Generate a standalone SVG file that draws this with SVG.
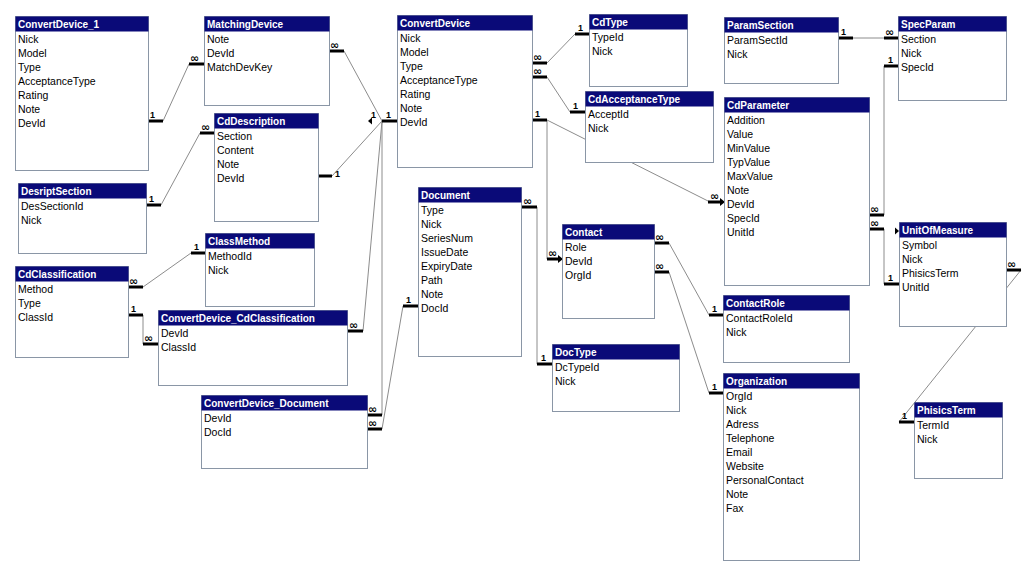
<svg xmlns="http://www.w3.org/2000/svg" width="1032" height="575" viewBox="0 0 1032 575">
<style>
.bg{fill:#ffffff}
.box{fill:#ffffff;stroke:#8a96a6;stroke-width:1}
.ttl{fill:#0a0a78}
.tt{font-family:"Liberation Sans",Arial,sans-serif;font-size:10px;font-weight:bold;fill:#ffffff}
.ft{font-family:"Liberation Sans",Arial,sans-serif;font-size:10.5px;fill:#000000}
.ln{stroke:#8c8c8c;stroke-width:1;fill:none}
.stub{stroke:#000000;stroke-width:3;fill:none}
.one{font-family:"Liberation Sans",Arial,sans-serif;font-size:9px;font-weight:bold;fill:#000000}
.inf{font-family:"DejaVu Sans","Liberation Sans",sans-serif;font-size:11px;font-weight:bold;fill:#000000}
.arr{fill:#000000}
</style>
<rect class="bg" x="0" y="0" width="1032" height="575"/>

<g id="connectors">
  <!-- lines -->
  <path class="ln" d="M163,121 L189,64"/>
  <path class="ln" d="M344,51 L382,121"/>
  <path class="ln" d="M161,205 L200,133"/>
  <path class="ln" d="M332,176 L382,121"/>
  <path class="ln" d="M363,331 L382,121"/>
  <path class="ln" d="M382,415 L382,121"/>
  <path class="ln" d="M382,429 L403,306"/>
  <path class="ln" d="M143,287 L191,253"/>
  <path class="ln" d="M143,315 L143,344"/>
  <path class="ln" d="M547,63 L575,34"/>
  <path class="ln" d="M547,77 L570,112"/>
  <path class="ln" d="M547,120 L710,202"/>
  <path class="ln" d="M547,120 L547,259"/>
  <path class="ln" d="M537,207 L537,364"/>
  <path class="ln" d="M669,243 L709,315"/>
  <path class="ln" d="M669,272 L709,393"/>
  <path class="ln" d="M853,38 L884,38"/>
  <path class="ln" d="M884,66 L884,215"/>
  <path class="ln" d="M884,229 L884,284"/>
  <path class="ln" d="M1021,270 L899,422"/>

  <!-- stubs -->
  <path class="stub" d="M148,121 H163"/><text class="one" x="150" y="118">1</text>
  <path class="stub" d="M189,64 H204"/><text class="inf" x="190" y="62">∞</text>
  <path class="stub" d="M329,51 H344"/><text class="inf" x="330" y="49">∞</text>
  <path class="stub" d="M146,205 H161"/><text class="one" x="149" y="202">1</text>
  <path class="stub" d="M200,133 H214"/><text class="inf" x="201" y="131">∞</text>
  <path class="stub" d="M318,176 H332"/><text class="one" x="335" y="177">1</text>
  <path class="stub" d="M348,331 H363"/><text class="inf" x="349" y="329">∞</text>
  <path class="stub" d="M367,415 H382"/><text class="inf" x="368" y="413">∞</text>
  <path class="stub" d="M367,429 H382"/><text class="inf" x="368" y="427">∞</text>
  <path class="stub" d="M403,306 H418"/><text class="one" x="406" y="303">1</text>
  <path class="stub" d="M382,121 H397"/><text class="one" x="386" y="118">1</text>
  <text class="one" x="371" y="118">1</text>
  <polygon class="arr" points="368,121 372,117.5 372,124.5"/>
  <path class="stub" d="M128,287 H143"/><text class="inf" x="129" y="285">∞</text>
  <path class="stub" d="M191,253 H205"/><text class="one" x="194" y="250">1</text>
  <path class="stub" d="M128,315 H143"/><text class="one" x="131" y="312">1</text>
  <path class="stub" d="M143,344 H158"/><text class="inf" x="144" y="342">∞</text>
  <path class="stub" d="M532,63 H547"/><text class="inf" x="533" y="61">∞</text>
  <path class="stub" d="M532,77 H547"/><text class="inf" x="533" y="75">∞</text>
  <path class="stub" d="M575,34 H589"/><text class="one" x="578" y="31">1</text>
  <path class="stub" d="M570,112 H585"/><text class="one" x="573" y="109">1</text>
  <path class="stub" d="M532,120 H547"/><text class="one" x="535" y="117">1</text>
  <path class="stub" d="M708,202 H721"/><text class="inf" x="710" y="200">∞</text>
  <polygon class="arr" points="725,202 720,198 720,206"/>
  <path class="stub" d="M547,259 H559"/><text class="inf" x="548" y="257">∞</text>
  <polygon class="arr" points="563,259 558,255 558,263"/>
  <path class="stub" d="M521,207 H537"/><text class="inf" x="523" y="205">∞</text>
  <path class="stub" d="M537,364 H552"/><text class="one" x="541" y="361">1</text>
  <path class="stub" d="M654,243 H669"/><text class="inf" x="655" y="241">∞</text>
  <path class="stub" d="M654,272 H669"/><text class="inf" x="655" y="270">∞</text>
  <path class="stub" d="M709,315 H723"/><text class="one" x="712" y="312">1</text>
  <path class="stub" d="M709,393 H723"/><text class="one" x="712" y="390">1</text>
  <path class="stub" d="M838,38 H853"/><text class="one" x="841" y="35">1</text>
  <path class="stub" d="M884,38 H898"/><text class="inf" x="885" y="36">∞</text>
  <path class="stub" d="M884,66 H898"/><text class="one" x="888" y="63">1</text>
  <path class="stub" d="M869,215 H884"/><text class="inf" x="870" y="213">∞</text>
  <path class="stub" d="M869,229 H884"/><text class="inf" x="870" y="227">∞</text>
  <polygon class="arr" points="899,231 895,227.5 895,234.5"/>
  <path class="stub" d="M884,284 H899"/><text class="one" x="888" y="281">1</text>
  <path class="stub" d="M1006,270 H1021"/><text class="inf" x="1007" y="268">∞</text>
  <path class="stub" d="M899,422 H914"/><text class="one" x="902" y="419">1</text>
</g>

<g id="ConvertDevice_1" transform="translate(15,16)">
  <rect class="box" x="0.5" y="0.5" width="133" height="154"/><rect class="ttl" x="0.5" y="0.5" width="133" height="15"/>
  <text class="tt" x="3" y="12">ConvertDevice_1</text>
  <text class="ft" x="3" y="27">Nick</text><text class="ft" x="3" y="41">Model</text><text class="ft" x="3" y="55">Type</text><text class="ft" x="3" y="69">AcceptanceType</text><text class="ft" x="3" y="83">Rating</text><text class="ft" x="3" y="97">Note</text><text class="ft" x="3" y="111">DevId</text>
</g>
<g id="MatchingDevice" transform="translate(204,16)">
  <rect class="box" x="0.5" y="0.5" width="125" height="89"/><rect class="ttl" x="0.5" y="0.5" width="125" height="15"/>
  <text class="tt" x="3" y="12">MatchingDevice</text>
  <text class="ft" x="3" y="27">Note</text><text class="ft" x="3" y="41">DevId</text><text class="ft" x="3" y="55">MatchDevKey</text>
</g>
<g id="CdDescription" transform="translate(214,113)">
  <rect class="box" x="0.5" y="0.5" width="104" height="108"/><rect class="ttl" x="0.5" y="0.5" width="104" height="15"/>
  <text class="tt" x="3" y="12">CdDescription</text>
  <text class="ft" x="3" y="27">Section</text><text class="ft" x="3" y="41">Content</text><text class="ft" x="3" y="55">Note</text><text class="ft" x="3" y="69">DevId</text>
</g>
<g id="DesriptSection" transform="translate(18,183)">
  <rect class="box" x="0.5" y="0.5" width="128" height="70"/><rect class="ttl" x="0.5" y="0.5" width="128" height="15"/>
  <text class="tt" x="3" y="12">DesriptSection</text>
  <text class="ft" x="3" y="27">DesSectionId</text><text class="ft" x="3" y="41">Nick</text>
</g>
<g id="ClassMethod" transform="translate(205,233)">
  <rect class="box" x="0.5" y="0.5" width="109" height="73"/><rect class="ttl" x="0.5" y="0.5" width="109" height="15"/>
  <text class="tt" x="3" y="12">ClassMethod</text>
  <text class="ft" x="3" y="27">MethodId</text><text class="ft" x="3" y="41">Nick</text>
</g>
<g id="CdClassification" transform="translate(15,266)">
  <rect class="box" x="0.5" y="0.5" width="113" height="91"/><rect class="ttl" x="0.5" y="0.5" width="113" height="15"/>
  <text class="tt" x="3" y="12">CdClassification</text>
  <text class="ft" x="3" y="27">Method</text><text class="ft" x="3" y="41">Type</text><text class="ft" x="3" y="55">ClassId</text>
</g>
<g id="ConvertDevice_CdClassification" transform="translate(158,310)">
  <rect class="box" x="0.5" y="0.5" width="189" height="75"/><rect class="ttl" x="0.5" y="0.5" width="189" height="15"/>
  <text class="tt" x="3" y="12">ConvertDevice_CdClassification</text>
  <text class="ft" x="3" y="27">DevId</text><text class="ft" x="3" y="41">ClassId</text>
</g>
<g id="ConvertDevice_Document" transform="translate(201,395)">
  <rect class="box" x="0.5" y="0.5" width="166" height="73"/><rect class="ttl" x="0.5" y="0.5" width="166" height="15"/>
  <text class="tt" x="3" y="12">ConvertDevice_Document</text>
  <text class="ft" x="3" y="27">DevId</text><text class="ft" x="3" y="41">DocId</text>
</g>
<g id="ConvertDevice" transform="translate(397,15)">
  <rect class="box" x="0.5" y="0.5" width="135" height="152"/><rect class="ttl" x="0.5" y="0.5" width="135" height="15"/>
  <text class="tt" x="3" y="12">ConvertDevice</text>
  <text class="ft" x="3" y="27">Nick</text><text class="ft" x="3" y="41">Model</text><text class="ft" x="3" y="55">Type</text><text class="ft" x="3" y="69">AcceptanceType</text><text class="ft" x="3" y="83">Rating</text><text class="ft" x="3" y="97">Note</text><text class="ft" x="3" y="111">DevId</text>
</g>
<g id="Document" transform="translate(418,187)">
  <rect class="box" x="0.5" y="0.5" width="103" height="169"/><rect class="ttl" x="0.5" y="0.5" width="103" height="15"/>
  <text class="tt" x="3" y="12">Document</text>
  <text class="ft" x="3" y="27">Type</text><text class="ft" x="3" y="41">Nick</text><text class="ft" x="3" y="55">SeriesNum</text><text class="ft" x="3" y="69">IssueDate</text><text class="ft" x="3" y="83">ExpiryDate</text><text class="ft" x="3" y="97">Path</text><text class="ft" x="3" y="111">Note</text><text class="ft" x="3" y="125">DocId</text>
</g>
<g id="CdType" transform="translate(589,14)">
  <rect class="box" x="0.5" y="0.5" width="98" height="72"/><rect class="ttl" x="0.5" y="0.5" width="98" height="15"/>
  <text class="tt" x="3" y="12">CdType</text>
  <text class="ft" x="3" y="27">TypeId</text><text class="ft" x="3" y="41">Nick</text>
</g>
<g id="CdAcceptanceType" transform="translate(585,91)">
  <rect class="box" x="0.5" y="0.5" width="128" height="71"/><rect class="ttl" x="0.5" y="0.5" width="128" height="15"/>
  <text class="tt" x="3" y="12">CdAcceptanceType</text>
  <text class="ft" x="3" y="27">AcceptId</text><text class="ft" x="3" y="41">Nick</text>
</g>
<g id="ParamSection" transform="translate(724,17)">
  <rect class="box" x="0.5" y="0.5" width="114" height="66"/><rect class="ttl" x="0.5" y="0.5" width="114" height="15"/>
  <text class="tt" x="3" y="12">ParamSection</text>
  <text class="ft" x="3" y="27">ParamSectId</text><text class="ft" x="3" y="41">Nick</text>
</g>
<g id="SpecParam" transform="translate(898,16)">
  <rect class="box" x="0.5" y="0.5" width="108" height="84"/><rect class="ttl" x="0.5" y="0.5" width="108" height="15"/>
  <text class="tt" x="3" y="12">SpecParam</text>
  <text class="ft" x="3" y="27">Section</text><text class="ft" x="3" y="41">Nick</text><text class="ft" x="3" y="55">SpecId</text>
</g>
<g id="CdParameter" transform="translate(724,97)">
  <rect class="box" x="0.5" y="0.5" width="145" height="188"/><rect class="ttl" x="0.5" y="0.5" width="145" height="15"/>
  <text class="tt" x="3" y="12">CdParameter</text>
  <text class="ft" x="3" y="27">Addition</text><text class="ft" x="3" y="41">Value</text><text class="ft" x="3" y="55">MinValue</text><text class="ft" x="3" y="69">TypValue</text><text class="ft" x="3" y="83">MaxValue</text><text class="ft" x="3" y="97">Note</text><text class="ft" x="3" y="111">DevId</text><text class="ft" x="3" y="125">SpecId</text><text class="ft" x="3" y="139">UnitId</text>
</g>
<g id="Contact" transform="translate(562,224)">
  <rect class="box" x="0.5" y="0.5" width="92" height="94"/><rect class="ttl" x="0.5" y="0.5" width="92" height="15"/>
  <text class="tt" x="3" y="12">Contact</text>
  <text class="ft" x="3" y="27">Role</text><text class="ft" x="3" y="41">DevId</text><text class="ft" x="3" y="55">OrgId</text>
</g>
<g id="DocType" transform="translate(552,344)">
  <rect class="box" x="0.5" y="0.5" width="127" height="67"/><rect class="ttl" x="0.5" y="0.5" width="127" height="15"/>
  <text class="tt" x="3" y="12">DocType</text>
  <text class="ft" x="3" y="27">DcTypeId</text><text class="ft" x="3" y="41">Nick</text>
</g>
<g id="ContactRole" transform="translate(723,295)">
  <rect class="box" x="0.5" y="0.5" width="126" height="67"/><rect class="ttl" x="0.5" y="0.5" width="126" height="15"/>
  <text class="tt" x="3" y="12">ContactRole</text>
  <text class="ft" x="3" y="27">ContactRoleId</text><text class="ft" x="3" y="41">Nick</text>
</g>
<g id="Organization" transform="translate(723,373)">
  <rect class="box" x="0.5" y="0.5" width="136" height="187"/><rect class="ttl" x="0.5" y="0.5" width="136" height="15"/>
  <text class="tt" x="3" y="12">Organization</text>
  <text class="ft" x="3" y="27">OrgId</text><text class="ft" x="3" y="41">Nick</text><text class="ft" x="3" y="55">Adress</text><text class="ft" x="3" y="69">Telephone</text><text class="ft" x="3" y="83">Email</text><text class="ft" x="3" y="97">Website</text><text class="ft" x="3" y="111">PersonalContact</text><text class="ft" x="3" y="125">Note</text><text class="ft" x="3" y="139">Fax</text>
</g>
<g id="UnitOfMeasure" transform="translate(899,222)">
  <rect class="box" x="0.5" y="0.5" width="107" height="104"/><rect class="ttl" x="0.5" y="0.5" width="107" height="15"/>
  <text class="tt" x="3" y="12">UnitOfMeasure</text>
  <text class="ft" x="3" y="27">Symbol</text><text class="ft" x="3" y="41">Nick</text><text class="ft" x="3" y="55">PhisicsTerm</text><text class="ft" x="3" y="69">UnitId</text>
</g>
<g id="PhisicsTerm" transform="translate(914,402)">
  <rect class="box" x="0.5" y="0.5" width="88" height="76"/><rect class="ttl" x="0.5" y="0.5" width="88" height="15"/>
  <text class="tt" x="3" y="12">PhisicsTerm</text>
  <text class="ft" x="3" y="27">TermId</text><text class="ft" x="3" y="41">Nick</text>
</g>
</svg>
